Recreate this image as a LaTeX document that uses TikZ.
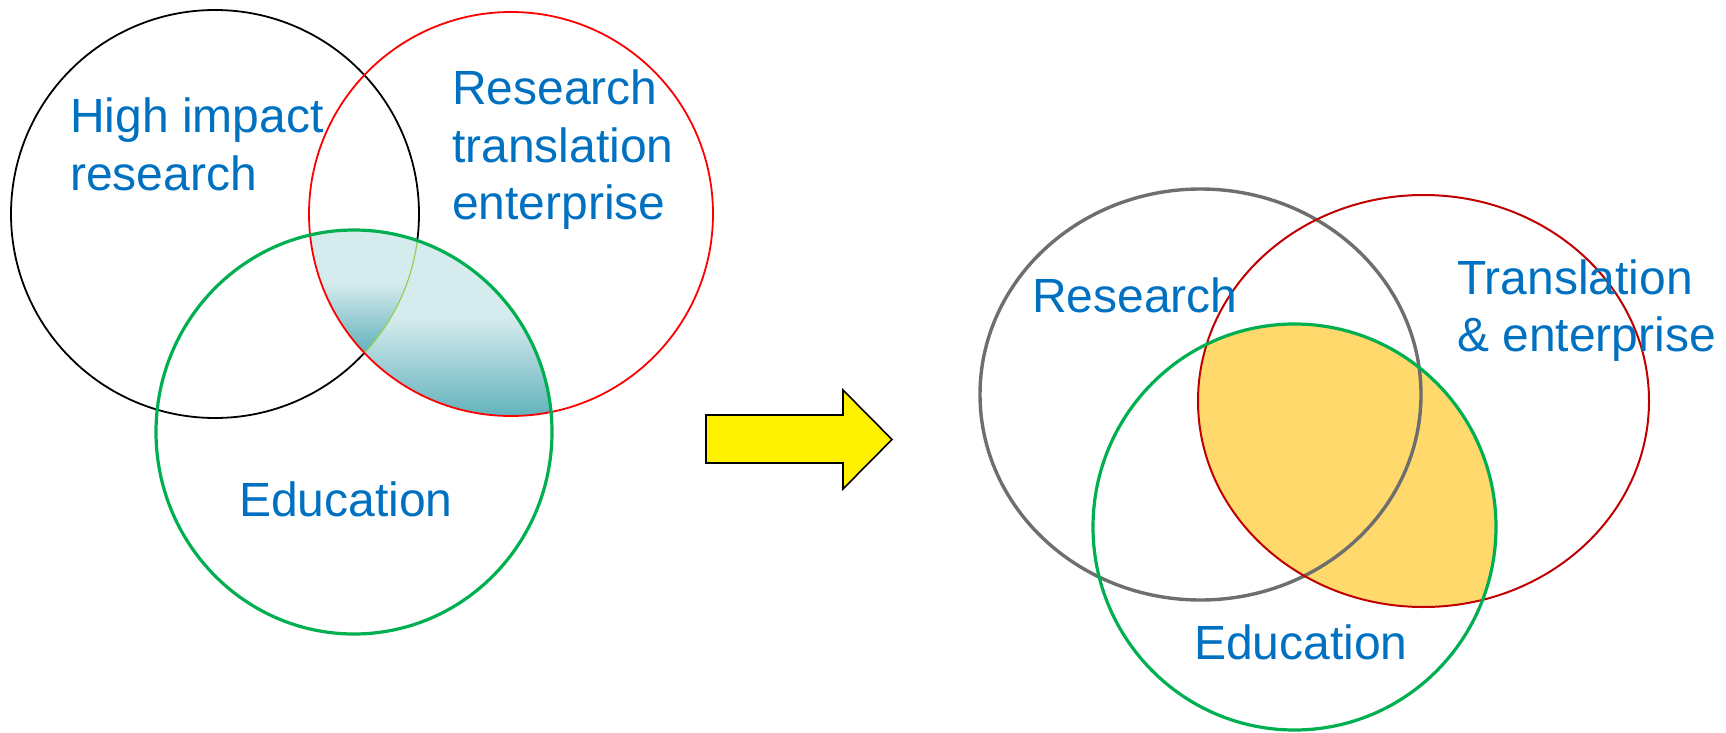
\documentclass[tikz,border=0pt]{standalone}
\usepackage{fontspec}
\setmainfont{Liberation Sans}
\definecolor{txtblue}{HTML}{0070C0}
\definecolor{vgreen}{HTML}{00B050}
\definecolor{vred}{HTML}{FF0000}
\definecolor{dred}{HTML}{C00000}
\definecolor{vgray}{HTML}{6E6E6E}
\definecolor{lteal}{HTML}{D6EBEE}
\definecolor{dteal}{HTML}{5EB0BA}
\definecolor{lgreen}{HTML}{92D050}
\definecolor{lensyellow}{HTML}{FFD96B}
\tikzset{
  lbl/.style={anchor=base west, inner sep=0pt, text=txtblue, font=\fontsize{48}{57.6}\selectfont},
  blackring/.style={draw=black, line width=1.8pt},
  redring/.style={draw=vred, line width=1.8pt},
  greenring/.style={draw=vgreen, line width=3.2pt},
  grayring/.style={draw=vgray, line width=3.4pt},
  dredring/.style={draw=dred, line width=2pt},
  blockarrow/.style={fill=yellow, draw=black, line width=1.6pt, line join=miter}
}
\begin{document}
\begin{tikzpicture}[x=1pt, y=-1pt]
\useasboundingbox (0,0) rectangle (1726,733);
% ---------- left diagram ----------
\coordinate (B1) at (215,214);
\coordinate (R1) at (511,214);
\coordinate (G1) at (354,432);
\draw[blackring] (B1) circle[radius=204pt];
\begin{scope}
  \clip (R1) circle[radius=202pt];
  \clip (G1) ellipse[x radius=198pt, y radius=202pt];
  \fill[lteal] (290,215) rectangle (570,317);
  \shade[top color=lteal, bottom color=dteal] (290,317) rectangle (570,420);
  \clip (B1) circle[radius=204pt];
  \fill[lteal] (290,215) rectangle (570,282);
  \shade[top color=lteal, bottom color=dteal] (290,282) rectangle (570,355);
\end{scope}
\begin{scope}
  \clip (R1) circle[radius=202pt];
  \clip (G1) ellipse[x radius=198pt, y radius=202pt];
  \draw[lgreen, line width=1.2pt] (B1) circle[radius=204pt];
\end{scope}
\draw[redring] (R1) circle[radius=202pt];
\draw[greenring] (G1) ellipse[x radius=198pt, y radius=202pt];
\node[lbl] (hi1) at (70,132) {High impact};
\node[lbl] (hi2) at (70,190) {research};
\node[lbl] (rt1) at (452,105) {Research};
\node[lbl] (rt2) at (452,162) {translation};
\node[lbl] (rt3) at (452,219) {enterprise};
\node[lbl] (ed1) at (239,516) {Education};
% ---------- arrow ----------
\draw[blockarrow] (706,415) -- (843,415) -- (843,390) -- (892,439.5) -- (843,489) -- (843,463) -- (706,463) -- cycle;
% ---------- right diagram ----------
\coordinate (B2) at (1200.5,394.5);
\coordinate (R2) at (1423.5,401);
\coordinate (G2) at (1294.5,527);
\begin{scope}
  \clip (R2) ellipse[x radius=225.5pt, y radius=206pt];
  \fill[lensyellow] (G2) ellipse[x radius=201.5pt, y radius=203pt];
\end{scope}
\draw[grayring] (B2) ellipse[x radius=220.5pt, y radius=205.5pt];
\draw[dredring] (R2) ellipse[x radius=225.5pt, y radius=206pt];
\draw[greenring] (G2) ellipse[x radius=201.5pt, y radius=203pt];
\node[lbl] (rs1) at (1032,312) {Research};
\node[lbl] (te1) at (1457,294) {Translation};
\node[lbl] (te2) at (1457,351) {\& enterprise};
\node[lbl] (ed2) at (1194,659) {Education};
\end{tikzpicture}
\end{document}
